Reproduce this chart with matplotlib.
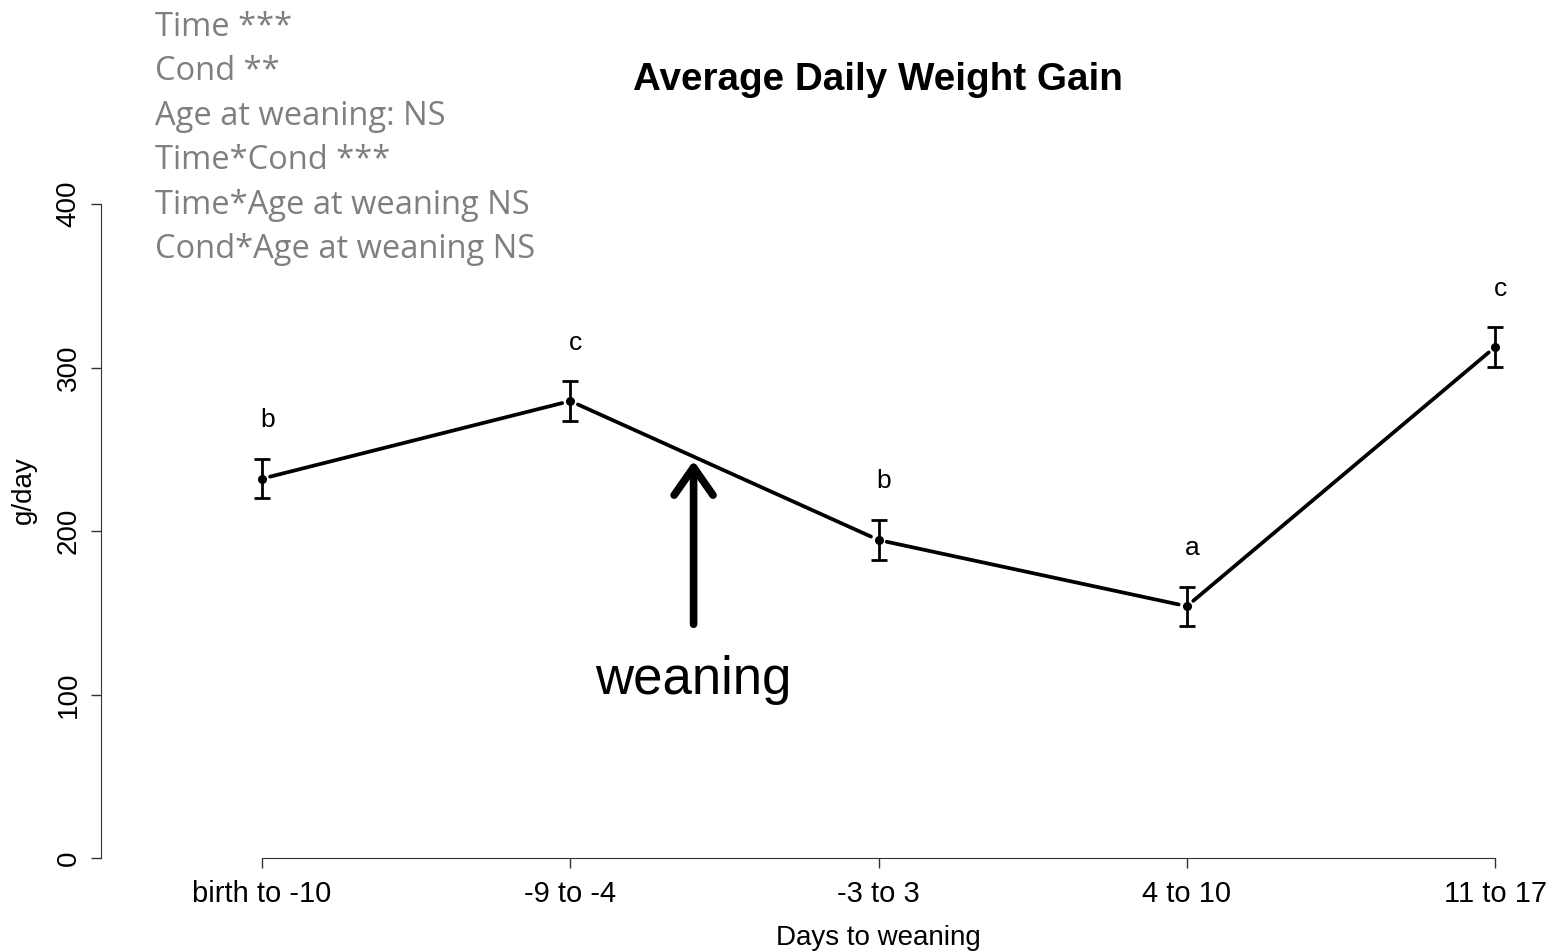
import numpy as np
import matplotlib
matplotlib.use('Agg')
import matplotlib.pyplot as plt

# weight gain per period (g/day), mean +/- se, with post-hoc letters
periods = ['birth to -10', '-9 to -4', '-3 to 3', '4 to 10', '11 to 17']
gain = [232, 279.5, 194.5, 154, 312.5]
se = [12, 12, 12, 12, 12]
letters = ['b', 'c', 'b', 'a', 'c']

stats_text = ['Time ***', 'Cond **', 'Age at weaning: NS', 'Time*Cond ***',
              'Time*Age at weaning NS', 'Cond*Age at weaning NS']

plt.rcParams['font.family'] = ['Liberation Sans', 'DejaVu Sans']

fig = plt.figure(figsize=(15.5, 9.52), dpi=100)
ax = fig.add_axes([0.0652, 0.0987, 0.9348, 0.7437])

x = np.arange(1, len(periods) + 1)

ax.errorbar(x, gain, yerr=se, fmt='o', color='black', ms=5.5, elinewidth=2,
            capsize=6, capthick=2, zorder=3)

# R style type="b": segments stop short of the points
for i in range(len(x) - 1):
    ax.annotate('', xy=(x[i + 1], gain[i + 1]), xytext=(x[i], gain[i]),
                arrowprops=dict(arrowstyle='-', lw=2.7, color='black',
                                shrinkA=6, shrinkB=6))

for xi, g, s, lab in zip(x, gain, se, letters):
    ax.annotate(lab, (xi, g + s), xytext=(4, 28), textcoords='offset points',
                ha='center', va='center', fontsize=19)

# weaning arrow
ax.annotate('', xy=(2.40, 243), xytext=(2.40, 143),
            arrowprops=dict(arrowstyle='->,head_length=0.5,head_width=0.35',
                            lw=5.5, color='black', mutation_scale=40,
                            shrinkA=0, shrinkB=0, capstyle='round',
                            joinstyle='round'))
ax.text(2.40, 109, 'weaning', ha='center', va='center', fontsize=38)

ax.set_xlim(0.478, 5.178)
ax.set_ylim(0, 433)
ax.set_xticks(x)
ax.set_xticklabels(periods, fontsize=21)
ax.set_yticks([0, 100, 200, 300, 400])
ax.set_yticklabels(['0', '100', '200', '300', '400'], fontsize=20,
                   rotation=90, va='center')
ax.tick_params(direction='out', length=7, width=1, color='#333333')
ax.tick_params(axis='x', pad=9)
ax.tick_params(axis='y', pad=7)

for side in ['top', 'right']:
    ax.spines[side].set_visible(False)
ax.spines['left'].set_bounds(0, 400)
ax.spines['bottom'].set_bounds(1, 5)
ax.spines['left'].set_color('#333333')
ax.spines['bottom'].set_color('#333333')

ax.set_xlabel('Days to weaning', fontsize=20)
ax.set_ylabel('g/day', fontsize=20)
ax.xaxis.set_label_coords((3 - 0.478) / (5.178 - 0.478), -0.095)
ax.yaxis.set_label_coords(-0.044, 0.52)

fig.text(878 / 1550, 1 - 80 / 952, 'Average Daily Weight Gain', ha='center',
         va='center', fontsize=27.8, fontweight='bold')

for i, line in enumerate(stats_text):
    fig.text(155 / 1550, 1 - (27 + 44.6 * i) / 952, line, ha='left',
             va='center', fontsize=23.5, color='#7f7f7f', family='Open Sans')

fig.savefig('out.png', dpi=100)
